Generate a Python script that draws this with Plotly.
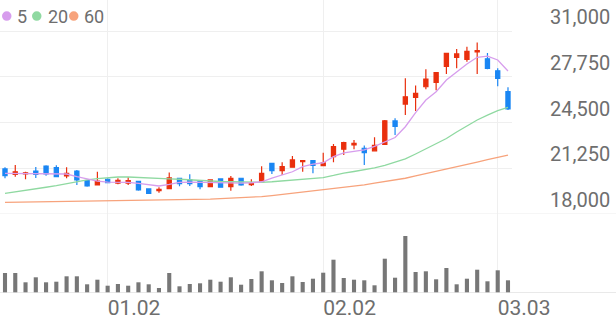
import plotly.graph_objects as go

idx = list(range(50))
open_ = [21200, 20820, 20840, 21050, 21410, 21290, 20700, 21050, 20370, 20060,
         20470, 20200, 20200, 20320, 19780, 19660, 19800, 20540, 20420, 20340,
         19940, 20490, 19940, 20540, 20080, 20290, 21600, 21080, 21320, 21720,
         21790, 21430, 22070, 22600, 22900, 22670, 22490, 22950, 24610, 25810,
         26290, 27040, 27340, 28490, 29130, 28990, 29510, 29030, 28170, 26690]
close = [20720, 21000, 20930, 20820, 20840, 20650, 20890, 20420, 19990, 20340,
         20220, 20390, 20370, 19710, 19470, 19750, 20560, 20150, 20150, 19940,
         20420, 19900, 20540, 20060, 20200, 20890, 21080, 21360, 21840, 21790,
         21460, 21640, 22780, 23070, 23020, 22350, 22870, 24620, 24230, 26330,
         26570, 27590, 28040, 29420, 29370, 29560, 29600, 28350, 27640, 25460]
high = [21320, 21480, 21000, 21340, 21460, 21460, 21320, 21130, 20400, 21000,
        20540, 20540, 20610, 20350, 19830, 19900, 20950, 20580, 20830, 20380,
        20470, 20540, 20700, 20580, 20470, 21390, 21620, 21670, 22120, 21800,
        21800, 22350, 22970, 23140, 23260, 22870, 23450, 24680, 24800, 27640,
        27130, 28280, 28050, 29420, 29720, 29890, 30180, 29440, 28350, 27000]
low = [20540, 20650, 20470, 20560, 20720, 20620, 20540, 20060, 19940, 20040,
       20180, 20110, 20060, 19650, 19420, 19510, 19780, 19970, 19990, 19750,
       19900, 19870, 19650, 20010, 19990, 20250, 20840, 20770, 21300, 21000,
       20890, 21410, 21670, 22190, 22600, 21480, 22470, 22900, 23610, 25030,
       25320, 26860, 26790, 27950, 28350, 28820, 27950, 28280, 27070, 25390]

ma5 = [20890, 20890, 20890, 20880, 20880, 20855, 20840, 20660, 20520, 20340,
       20270, 20250, 20250, 20170, 20060, 19990, 20100, 20240, 20270, 20250,
       20240, 20200, 20180, 20200, 20220, 20290, 20540, 20770, 21000, 21360,
       21550, 21640, 22070, 22350, 22430, 22550, 22800, 23140, 23430, 24200,
       25200, 26100, 26690, 27520, 28110, 28660, 29130, 29220, 28940, 28160]
ma20 = [19460, 19560, 19680, 19790, 19900, 20020, 20170, 20310, 20430, 20520,
        20580, 20630, 20630, 20610, 20570, 20540, 20500, 20470, 20420, 20370,
        20330, 20310, 20290, 20260, 20250, 20250, 20290, 20340, 20390, 20450,
        20520, 20590, 20740, 20910, 21020, 21130, 21270, 21450, 21660, 21910,
        22260, 22620, 22970, 23360, 23830, 24250, 24680, 25030, 25350, 25580]
ma60 = [18830, 18840, 18845, 18850, 18860, 18865, 18880, 18890, 18900, 18910,
        18920, 18930, 18935, 18945, 18960, 18975, 18990, 19000, 19020, 19040,
        19060, 19090, 19115, 19150, 19190, 19240, 19310, 19390, 19460, 19540,
        19620, 19710, 19790, 19880, 19980, 20070, 20190, 20300, 20420, 20540,
        20700, 20860, 21010, 21180, 21350, 21520, 21690, 21870, 22040, 22190]

volume = [200000, 200000, 107000, 157000, 107000, 113000, 167000, 167000, 87000, 133000,
          73000, 90000, 73000, 107000, 87000, 50000, 200000, 67000, 90000, 97000,
          133000, 113000, 157000, 83000, 140000, 217000, 127000, 100000, 167000, 110000,
          143000, 203000, 333000, 150000, 133000, 127000, 77000, 343000, 153000, 570000,
          210000, 217000, 137000, 250000, 87000, 143000, 233000, 117000, 227000, 127000]

tick_idx = [10, 31, 48]
tick_labels = ["01.02", "02.02", "03.03"]
price_ticks = [18000, 21250, 24500, 27750, 31000]

ma_names = ["5", "20", "60"]
ma_colors = ["#d79ded", "#8fd9a1", "#f7a37c"]
RED = "#e92f0d"
BLUE = "#1a86f3"
GRID = "#efefef"
TXT = "#6e6e6e"

fig = go.Figure()
fig.add_trace(go.Candlestick(
    x=idx, open=open_, high=high, low=low, close=close,
    increasing=dict(line=dict(color=RED, width=1.2), fillcolor=RED),
    decreasing=dict(line=dict(color=BLUE, width=1.2), fillcolor=BLUE),
    whiskerwidth=0, hoverinfo="skip", showlegend=False,
    xaxis="x", yaxis="y"))
for vals, col in zip([ma60, ma20, ma5], ma_colors[::-1]):
    fig.add_trace(go.Scatter(x=idx, y=vals, mode="lines",
                             line=dict(color=col, width=1.3),
                             hoverinfo="skip", showlegend=False,
                             xaxis="x", yaxis="y"))
fig.add_trace(go.Bar(x=idx, y=volume, width=0.4, marker=dict(color="#777777", line=dict(width=0)),
                     hoverinfo="skip", showlegend=False, xaxis="x2", yaxis="y2"))

W, H = 616, 321
plot_w = 512
mb = 28
plot_h = H - mb
split = (plot_h - 214) / plot_h
ppx = 13000 / 183.0
ytop = 31000 + 31 * ppx
x0 = -5 / 10.265
x1 = (plot_w - 5) / 10.265

fig.update_layout(
    width=W, height=H, margin=dict(l=0, r=W - plot_w, t=0, b=mb),
    paper_bgcolor="white", plot_bgcolor="white",
    boxgap=0.42,
    font=dict(family="Roboto", color=TXT),
    xaxis=dict(domain=[0, 1], range=[x0, x1], anchor="y",
               tickvals=tick_idx, showticklabels=False, showgrid=True,
               gridcolor=GRID, gridwidth=1, zeroline=False, showline=False,
               ticks="", rangeslider=dict(visible=False), fixedrange=True),
    xaxis2=dict(domain=[0, 1], range=[x0, x1], anchor="y2", matches="x",
                tickvals=tick_idx, ticktext=tick_labels, showgrid=True,
                gridcolor=GRID, gridwidth=1, zeroline=False, showline=False,
                ticks="", ticklabelposition="outside right",
                tickfont=dict(size=21, color=TXT)),
    yaxis=dict(domain=[split, 1], range=[18000, ytop], side="right", anchor="x",
               tickvals=price_ticks, tickformat=",", showgrid=True,
               gridcolor=GRID, gridwidth=1, zeroline=False, showline=False,
               ticks="", ticklabelposition="outside top", ticklabelstandoff=37,
               tickfont=dict(size=20, color=TXT)),
    yaxis2=dict(domain=[0, split], range=[0, 790000], anchor="x2",
                showgrid=False, showticklabels=False, zeroline=False,
                showline=False, ticks=""),
    shapes=[
        dict(type="line", xref="paper", yref="y", x0=0, x1=W / plot_w,
             y0=18000, y1=18000, line=dict(color="#ececec", width=1)),
        dict(type="line", xref="paper", yref="y2", x0=0, x1=W / plot_w,
             y0=0, y1=0, line=dict(color="#e2e2e2", width=1.5)),
    ],
)

# legend: coloured dots + labels
leg_x = [2, 32, 69]
txt_x = [15, 46, 82]
for lx, tx, name, col in zip(leg_x, txt_x, ma_names, ma_colors):
    fig.add_shape(type="circle", xref="paper", yref="paper",
                  xsizemode="pixel", ysizemode="pixel", xanchor=0, yanchor=1,
                  x0=lx, x1=lx + 9.5, y0=-11.3, y1=-20.8,
                  fillcolor=col, line=dict(width=0))
    fig.add_annotation(xref="paper", yref="paper", x=tx / plot_w, y=1 - 16 / plot_h,
                       xanchor="left", yanchor="middle", text=name, showarrow=False,
                       font=dict(size=18, color=TXT, family="Roboto"))

fig.write_html("out.html")
